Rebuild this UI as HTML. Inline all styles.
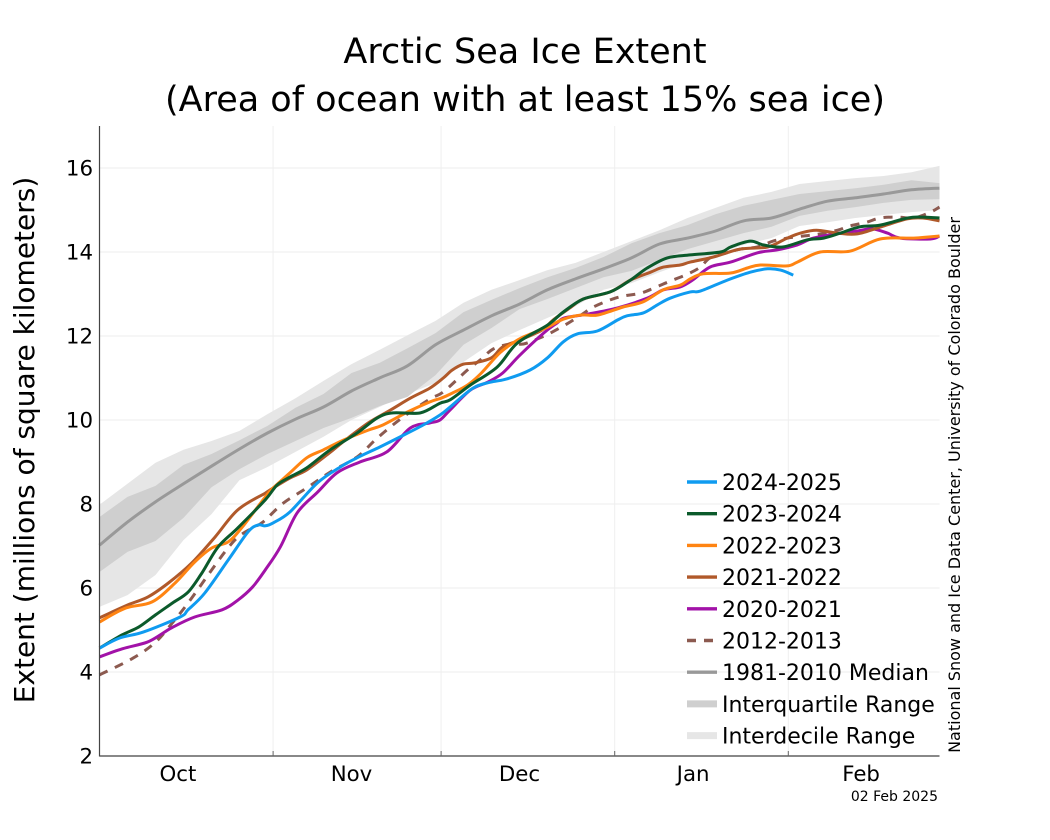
<!DOCTYPE html>
<html lang="en">
<head>
<meta charset="utf-8">
<title>Arctic Sea Ice Extent</title>
<style>
html,body{margin:0;padding:0;background:#fff;width:1050px;height:840px;overflow:hidden}
svg{display:block;font-family:"DejaVu Sans","Liberation Sans",sans-serif;fill:#000}
</style>
</head>
<body>
<svg id="chart" xmlns="http://www.w3.org/2000/svg" width="1050" height="840" viewBox="0 0 1050 840">
  <g id="grid"></g>
  <g id="bands"></g>
  <g id="lines"></g>
  <g id="axes"></g>
  <g id="legend"></g>
  <text x="525" y="63" text-anchor="middle" font-size="35">Arctic Sea Ice Extent</text>
  <text x="525" y="111" text-anchor="middle" font-size="35">(Area of ocean with at least 15% sea ice)</text>
  <text transform="translate(34,440) rotate(-90)" text-anchor="middle" font-size="28">Extent (millions of square kilometers)</text>
  <text transform="translate(960,485) rotate(-90)" text-anchor="middle" font-size="16">National Snow and Ice Data Center, University of Colorado Boulder</text>
  <text x="938" y="801" text-anchor="end" font-size="14">02 Feb 2025</text>
</svg>
<script>
const yTicks = [2, 4, 6, 8, 10, 12, 14, 16];
const monthLabels = ["Oct", "Nov", "Dec", "Jan", "Feb"];
const monthLabelDays = [14, 45, 75, 106, 136];
const monthStartDays = [31, 61, 92, 123];

const bandDays = [0,5,10,15,20,25,30,35,40,45,50,55,60,65,70,75,80,85,90,95,100,105,110,115,120,125,130,135,140,145,150];
const medianExtent = [7.02,7.57,8.05,8.48,8.9,9.31,9.69,10.02,10.31,10.69,11.0,11.29,11.79,12.14,12.48,12.76,13.1,13.36,13.6,13.86,14.19,14.33,14.5,14.74,14.81,15.02,15.21,15.29,15.38,15.48,15.52];
const decileUpper = [7.98,8.48,8.98,9.29,9.5,9.74,10.14,10.52,10.93,11.33,11.67,12.02,12.36,12.79,13.1,13.33,13.57,13.74,14.0,14.26,14.52,14.81,15.05,15.29,15.43,15.62,15.69,15.76,15.81,15.9,16.05];
const quartileUpper = [7.69,8.17,8.43,8.93,9.19,9.52,9.86,10.29,10.62,11.12,11.36,11.71,12.07,12.57,12.86,13.14,13.4,13.62,13.88,14.21,14.45,14.64,14.9,15.1,15.24,15.38,15.45,15.52,15.6,15.71,15.64];
const quartileLower = [6.38,6.86,7.12,7.67,8.4,8.83,9.19,9.5,9.81,10.05,10.33,10.55,11.07,11.79,12.19,12.64,12.88,13.14,13.4,13.55,13.81,14.07,14.26,14.45,14.6,14.86,14.98,15.07,15.17,15.24,15.26];
const decileLower = [5.55,5.83,6.31,7.14,7.76,8.57,8.88,9.24,9.6,10.0,10.31,10.62,10.88,11.38,11.83,12.14,12.43,12.71,13.1,13.26,13.52,13.76,13.95,14.17,14.33,14.62,14.71,14.81,14.88,14.95,15.0];

const days2012 = [0,6,10,13,15.8,19.4,22.4,24.7,27.3,29.2,32.8,37,41.2,46,49.6,54.2,59,61.4,65.7,68,70.3,73.3,75.7,78.2,80.5,83.5,86,88.2,91.2,93.5,96.6,99,101.6,104.6,107.3,109,112.1,114.4,117.5,120.3,122.8,125.7,128.7,131.8,134,137,139.4,142.5,145.4,148.4,150];
const extent2012 = [3.93,4.33,4.71,5.17,5.64,6.31,6.86,7.21,7.43,7.57,8.02,8.38,8.76,9.12,9.57,10.07,10.5,10.67,11.19,11.43,11.69,11.81,11.81,11.93,12.07,12.29,12.5,12.69,12.86,12.95,13.02,13.14,13.29,13.45,13.64,13.86,13.98,14.07,14.12,14.26,14.33,14.38,14.43,14.52,14.62,14.71,14.81,14.83,14.81,14.95,15.07];

const days2020 = [0,4,8.5,11.4,13.1,17,21.9,24.7,27.3,29.6,32.3,35.3,39,42.4,46.5,51.3,55.5,59,60.8,62.6,66.2,69.3,72,75.1,79.3,81.7,83,87.1,92.5,97.8,100.7,103.7,105.9,109,112.7,117.5,121,124.6,127.5,132.3,135.3,138,140.7,143,148.4,150];
const extent2020 = [4.36,4.55,4.71,4.93,5.07,5.31,5.48,5.71,6.02,6.43,6.98,7.79,8.29,8.74,9.0,9.24,9.81,9.93,10.0,10.24,10.71,10.9,11.12,11.55,12.07,12.31,12.43,12.52,12.67,12.9,13.1,13.17,13.33,13.64,13.76,13.98,14.05,14.17,14.33,14.45,14.5,14.55,14.45,14.33,14.31,14.38];

const days2021 = [0,5.1,8.7,12.3,16.5,20.6,24.7,29.6,31,34,37,41,43.5,48,52,55.5,59,61.4,63,65,67,70,72,75,79,81,84,86.4,91.2,94.8,98.4,100.7,103.7,105.5,109.6,114.4,119.3,122.8,125.2,128,131.8,135.3,140,144.3,147,150];
const extent2021 = [5.29,5.6,5.79,6.12,6.6,7.21,7.86,8.26,8.38,8.62,8.81,9.21,9.48,9.93,10.24,10.52,10.76,11.0,11.19,11.33,11.36,11.48,11.74,11.9,12.14,12.38,12.67,12.88,13.05,13.33,13.52,13.64,13.69,13.76,13.88,14.07,14.12,14.33,14.45,14.52,14.45,14.43,14.62,14.79,14.81,14.74];

const days2022 = [0,4.6,9.4,13.5,17,20,23,25.5,29.6,31,34,37,40,43.5,48,50.6,55,59,61,63,65.7,68.2,71.5,74.6,77,80,82.8,86,89,93.5,97,100.7,103.7,105.5,107.8,112.7,115.7,118,122.8,124.6,128.7,134,139.4,145.4,150];
const extent2022 = [5.19,5.52,5.67,6.12,6.62,6.95,7.1,7.45,8.17,8.38,8.74,9.1,9.29,9.52,9.76,9.88,10.19,10.43,10.52,10.64,10.83,11.12,11.6,11.9,12.05,12.21,12.4,12.5,12.5,12.69,12.81,13.1,13.21,13.36,13.48,13.5,13.62,13.69,13.67,13.76,14.0,14.02,14.31,14.33,14.38];

const days2023 = [0,4,7,10,13,15.8,18.3,21.2,24.7,29.6,31.7,34,37,41.2,46,49.6,52.4,57.3,60.8,62.6,66.2,71,74.6,80,82.8,86.4,91.2,94.8,97.8,101.4,105.5,110.9,112.7,116.2,118.5,122,126.4,129.3,132.3,135.8,139.4,144.3,147,150];
const extent2023 = [4.57,4.88,5.07,5.36,5.64,5.9,6.36,6.98,7.43,8.1,8.45,8.64,8.86,9.29,9.69,10.05,10.17,10.17,10.4,10.48,10.83,11.26,11.83,12.26,12.57,12.88,13.05,13.33,13.62,13.86,13.93,14.0,14.12,14.26,14.17,14.12,14.29,14.33,14.45,14.6,14.64,14.81,14.83,14.81];

const days2024 = [0,3.6,7.8,14.4,15.8,18.8,23,26.5,28.3,29.6,31,34,38.9,43,46,50.1,53.7,57.8,60.8,62.6,66.7,69.8,72.8,76.9,80,82.8,85.3,88.9,92.5,94.2,97.1,99.6,101.9,105.5,107.3,112.1,116.2,119.3,121.6,123.9];
const extent2024 = [4.57,4.81,4.95,5.31,5.48,5.88,6.67,7.33,7.5,7.48,7.55,7.81,8.5,8.88,9.1,9.36,9.6,9.88,10.12,10.31,10.76,10.9,10.98,11.19,11.48,11.86,12.05,12.12,12.38,12.48,12.55,12.74,12.9,13.05,13.07,13.33,13.52,13.6,13.57,13.45];

const legendLabels = ["2024-2025", "2023-2024", "2022-2023", "2021-2022", "2020-2021", "2012-2013", "1981-2010 Median", "Interquartile Range", "Interdecile Range"];

const NS = "http://www.w3.org/2000/svg";
const plotLeft = 99.5, plotRight = 939.5, plotTop = 126, plotBottom = 756;
const xMax = 150, yMin = 2, yMax = 17;
function xScale(d) { return plotLeft + (plotRight - plotLeft) * d / xMax; }
function yScale(v) { return plotBottom - (plotBottom - plotTop) * (v - yMin) / (yMax - yMin); }

function make(tag, parent, attrs) {
  const el = document.createElementNS(NS, tag);
  for (const k in attrs) el.setAttribute(k, attrs[k]);
  parent.appendChild(el);
  return el;
}
function smoothPath(xs, ys) {
  let d = "M" + xs[0].toFixed(1) + " " + ys[0].toFixed(1);
  for (let i = 0; i < xs.length - 1; i++) {
    const i0 = Math.max(0, i - 1), i3 = Math.min(xs.length - 1, i + 2);
    const c1x = xs[i] + (xs[i + 1] - xs[i0]) / 6, c1y = ys[i] + (ys[i + 1] - ys[i0]) / 6;
    const c2x = xs[i + 1] - (xs[i3] - xs[i]) / 6, c2y = ys[i + 1] - (ys[i3] - ys[i]) / 6;
    d += "C" + c1x.toFixed(1) + " " + c1y.toFixed(1) + " " + c2x.toFixed(1) + " " + c2y.toFixed(1) + " " + xs[i + 1].toFixed(1) + " " + ys[i + 1].toFixed(1);
  }
  return d;
}
function seriesPath(days, values) {
  return smoothPath(days.map(xScale), values.map(yScale));
}
function bandPath(days, upper, lower) {
  const pts = [];
  days.forEach((d, i) => pts.push(xScale(d).toFixed(1) + "," + yScale(upper[i]).toFixed(1)));
  for (let i = days.length - 1; i >= 0; i--) pts.push(xScale(days[i]).toFixed(1) + "," + yScale(lower[i]).toFixed(1));
  return pts.join(" ");
}

const gridG = document.getElementById("grid");
yTicks.forEach(t => {
  const l = make("line", gridG, { x1: plotLeft, x2: plotRight, y1: yScale(t), y2: yScale(t), stroke: "#f3f3f3", "stroke-width": 1.5 });
  
  
});
monthStartDays.forEach(d => {
  const l = make("line", gridG, { x1: xScale(d), x2: xScale(d), y1: plotTop, y2: plotBottom, stroke: "#efefef", "stroke-width": 1 });
  
  
});

const bandsG = document.getElementById("bands");
const decileBand = make("polygon", bandsG, { points: bandPath(bandDays, decileUpper, decileLower), fill: "#e6e6e6" });


const quartileBand = make("polygon", bandsG, { points: bandPath(bandDays, quartileUpper, quartileLower), fill: "#cfcfcf" });



const linesG = document.getElementById("lines");
function addLine(days, values, color, width, dash) {
  const p = make("path", linesG, { d: seriesPath(days, values), fill: "none", stroke: color, "stroke-width": width, "stroke-linejoin": "round" });
  if (dash) p.setAttribute("stroke-dasharray", dash);
  return p;
}
const medianLine = addLine(bandDays, medianExtent, "#999999", 3);


const line2012 = addLine(days2012, extent2012, "#8c5a50", 3, "9 8");


const line2020 = addLine(days2020, extent2020, "#a212a8", 3);


const line2021 = addLine(days2021, extent2021, "#b0592a", 3);


const line2022 = addLine(days2022, extent2022, "#ff8412", 3);


const line2023 = addLine(days2023, extent2023, "#0b5a2b", 3);


const line2024 = addLine(days2024, extent2024, "#0f9bf0", 3);



const axesG = document.getElementById("axes");
const yAxis = make("line", axesG, { x1: plotLeft, x2: plotLeft, y1: plotTop, y2: plotBottom + 0.5, stroke: "#444", "stroke-width": 1.2 });


const xAxis = make("line", axesG, { x1: plotLeft, x2: plotRight, y1: plotBottom, y2: plotBottom, stroke: "#444", "stroke-width": 1.2 });


yTicks.forEach(t => {
  const label = make("text", axesG, { x: 93, y: yScale(t) + 7.7, "text-anchor": "end", "font-size": 21.3 });
  label.textContent = t;
  
  
});
monthStartDays.forEach(d => {
  const tick = make("line", axesG, { x1: xScale(d), x2: xScale(d), y1: plotBottom - 5, y2: plotBottom, stroke: "#666", "stroke-width": 1 });
  
  
});
monthLabels.forEach((m, i) => {
  const label = make("text", axesG, { x: xScale(monthLabelDays[i]), y: 781, "text-anchor": "middle", "font-size": 21.3 });
  label.textContent = m;
  
  
});

const legendG = document.getElementById("legend");
const legendColors = ["#0f9bf0", "#0b5a2b", "#ff8412", "#b0592a", "#a212a8", "#8c5a50", "#999999", "#cfcfcf", "#e6e6e6"];
const legendWidths = [3.4, 3.4, 3.4, 3.4, 3.4, 3.4, 3.4, 7, 7];
legendLabels.forEach((name, i) => {
  const rowY = 482 + i * 31.7;
  const swatch = make("line", legendG, { x1: 687, x2: 717, y1: rowY, y2: rowY, stroke: legendColors[i], "stroke-width": legendWidths[i] });
  if (name === "2012-2013") swatch.setAttribute("stroke-dasharray", "9 8");
  
  
  const text = make("text", legendG, { x: 722, y: rowY + 8, "font-size": 22 });
  text.textContent = name;
  
  
});
</script>
</body>
</html>
